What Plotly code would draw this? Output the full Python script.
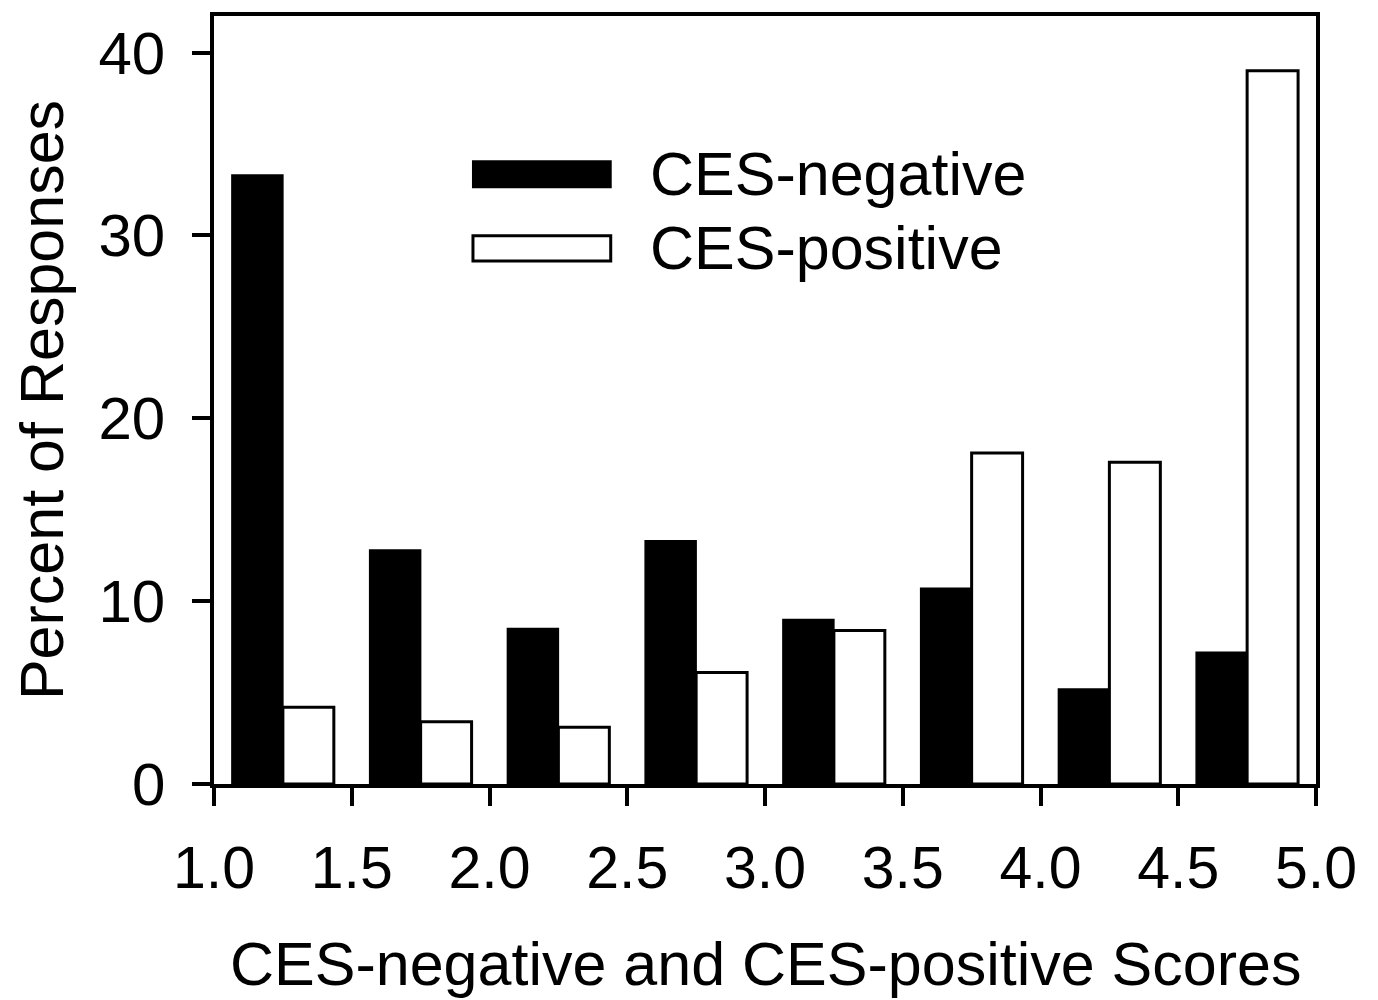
import plotly.graph_objects as go

bins = [1.25, 1.75, 2.25, 2.75, 3.25, 3.75, 4.25, 4.75]
ces_negative = [33.3, 12.8, 8.5, 13.3, 9.0, 10.7, 5.2, 7.2]
ces_positive = [4.2, 3.4, 3.1, 6.1, 8.4, 18.1, 17.6, 39.0]
x_ticks = [1.0, 1.5, 2.0, 2.5, 3.0, 3.5, 4.0, 4.5, 5.0]
x_tick_labels = ["1.0", "1.5", "2.0", "2.5", "3.0", "3.5", "4.0", "4.5", "5.0"]
y_ticks = [0, 10, 20, 30, 40]
series_names = ["CES-negative", "CES-positive"]

FONT = "Liberation Sans, Arial, sans-serif"

fig = go.Figure()
fig.add_trace(go.Bar(x=bins, y=ces_negative, name=series_names[0],
                     marker=dict(color="black", line=dict(color="black", width=1.5)),
                     showlegend=False))
fig.add_trace(go.Bar(x=bins, y=ces_positive, name=series_names[1],
                     marker=dict(color="white", line=dict(color="black", width=3)),
                     showlegend=False))

fig.update_layout(
    width=1378, height=1000,
    margin=dict(l=214, r=62, t=12, b=216),
    paper_bgcolor="white", plot_bgcolor="white",
    barmode="group", bargap=0.26, bargroupgap=0,
    font=dict(family=FONT, size=60, color="black"),
)
fig.update_xaxes(range=[1.0, 5.0], tickvals=x_ticks, ticktext=x_tick_labels,
                 showline=True, linecolor="black", linewidth=3.5, mirror=True,
                 ticks="outside", ticklen=18, tickwidth=3.5, tickcolor="black",
                 showgrid=False, zeroline=False, ticklabelstandoff=11,
                 tickfont=dict(size=59))
fig.update_yaxes(range=[0, 42], tickvals=y_ticks,
                 showline=True, linecolor="black", linewidth=3.5, mirror=True,
                 ticks="outside", ticklen=18, tickwidth=3.5, tickcolor="black",
                 showgrid=False, zeroline=False, ticklabelstandoff=15,
                 tickfont=dict(size=60))

# axis titles
fig.add_annotation(text="CES-negative and CES-positive Scores", xref="paper", yref="paper",
                   x=0.5, y=-0.2345, xanchor="center", yanchor="middle",
                   showarrow=False, font=dict(size=61))
fig.add_annotation(text="Percent of Responses", xref="paper", yref="paper",
                   x=-0.156, y=0.5, xanchor="center", yanchor="middle", textangle=-90,
                   showarrow=False, font=dict(size=61))

# legend
fig.add_shape(type="rect", xref="paper", yref="paper", x0=0.235, x1=0.360, y0=0.777, y1=0.811,
              fillcolor="black", line=dict(color="black", width=2))
fig.add_shape(type="rect", xref="paper", yref="paper", x0=0.235, x1=0.360, y0=0.681, y1=0.714,
              fillcolor="white", line=dict(color="black", width=3))
fig.add_annotation(text=series_names[0], xref="paper", yref="paper", x=0.394, y=0.794,
                   xanchor="left", yanchor="middle", showarrow=False, font=dict(size=61))
fig.add_annotation(text=series_names[1], xref="paper", yref="paper", x=0.394, y=0.6975,
                   xanchor="left", yanchor="middle", showarrow=False, font=dict(size=61))

fig.write_html("out.html", config={"displayModeBar": False},
               post_script="document.body.style.margin='0';")
